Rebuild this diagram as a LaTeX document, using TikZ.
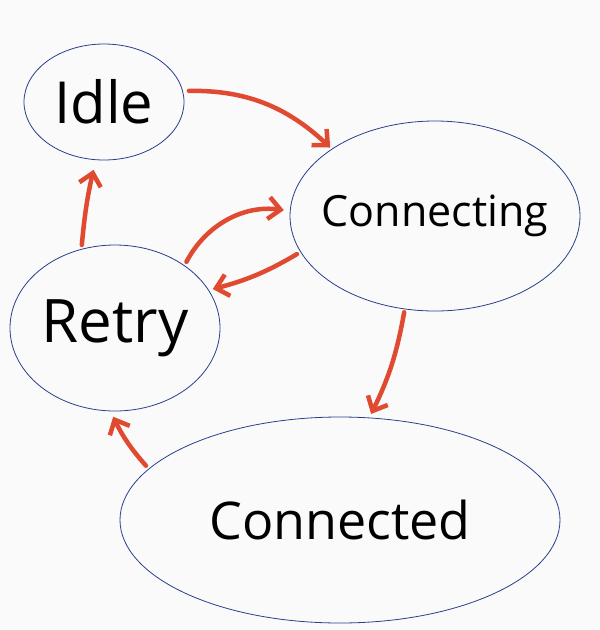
\documentclass[tikz,border=0pt]{standalone}
\usepackage{fontspec}
\setsansfont{Open Sans}
\usepackage{tikz}
\usetikzlibrary{arrows.meta,shapes.geometric}
\definecolor{stpaper}{HTML}{FAFAFA}
\definecolor{stline}{HTML}{2B3F8C}
\definecolor{stpen}{HTML}{E04A30}

\begin{document}
\begin{tikzpicture}[
  x=1pt, y=-1pt,
  state/.style={ellipse, draw=stline, line width=0.8pt, inner ysep=0pt, inner xsep=-20pt,
                font=\sffamily},
  arr/.style={-{Straight Barb[length=12pt, width=22pt, line width=4.5pt]},
              draw=stpen, line width=4.5pt, line cap=round, line join=round}
]
\fill[stpaper] (0,0) rectangle (600,630);
\useasboundingbox (0,0) rectangle (600,630);

\node[state, minimum width=160pt, minimum height=116pt] (idle) at (104,102)
  {\fontsize{58}{68}\selectfont Idle};
\node[state, minimum width=290pt, minimum height=190pt] (connecting) at (435,216)
  {\fontsize{43}{52}\selectfont Connecting};
\node[state, minimum width=210pt, minimum height=166pt] (retry) at (115,328)
  {\fontsize{60}{70}\selectfont Retry};
\node[state, minimum width=440pt, minimum height=206pt] (connected) at (340,520)
  {\fontsize{52}{62}\selectfont Connected};

\draw[arr, shorten <=6pt, shorten >=2pt] (idle.8) to[bend left=22] (connecting.147);
\draw[arr, shorten <=3pt, shorten >=4pt] (connecting.252) to[bend left=8] (connected.74);
\draw[arr, shorten <=4pt, shorten >=6pt] (connected.165) to[bend left=8] (retry.267);
\draw[arr, shorten <=4pt, shorten >=10pt] (retry.113) to[bend left=4] (idle.262);
\draw[arr, shorten <=4pt, shorten >=6pt] (retry.42) to[bend left=35] (connecting.178);
\draw[arr, shorten <=4pt, shorten >=4pt] (connecting.195) to[bend left=8] (retry.22);
\end{tikzpicture}
\end{document}
